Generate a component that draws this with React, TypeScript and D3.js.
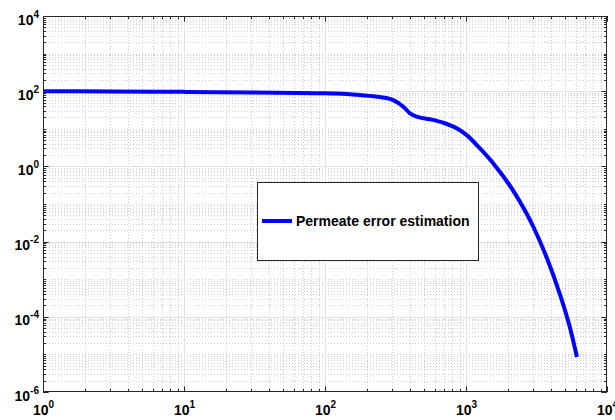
import React from "react";
import * as d3 from "d3";

const xValues = [1, 3, 10, 30, 100, 177, 245, 305, 359, 401, 447, 556, 691, 859, 1012, 1257, 1563, 2154, 2985, 3752, 4641, 5465, 6125];
const yValues = [100, 98, 96, 92, 88, 79, 70, 58, 38.7, 25.8, 21, 17.9, 14.5, 10.3, 6.8, 3.0, 1.2, 0.23, 0.026, 0.0036, 3.9e-4, 5.1e-5, 8.5e-6];
const xTickExps = [0, 1, 2, 3, 4];
const yTickExps = [-6, -4, -2, 0, 2, 4];
const seriesName = "Permeate error estimation";

const W = 615, H = 420;
const L = 43, R = 607, T = 16, B = 392;
const FONT = "'Liberation Sans', Arial, Helvetica, sans-serif";
const AXIS = "#262626";

export default function App() {
  const x = d3.scaleLog().domain([1, 1e4]).range([L, R]);
  const y = d3.scaleLog().domain([1e-6, 1e4]).range([B, T]);

  const xMinor: number[] = [];
  for (let d = 0; d < 4; d++) for (let k = 2; k <= 9; k++) xMinor.push(k * Math.pow(10, d));
  const yMinor: number[] = [];
  for (let d = -6; d < 4; d++) for (let k = 1; k <= 9; k++) {
    if (k === 1 && d % 2 === 0) continue;
    yMinor.push(k * Math.pow(10, d));
  }
  const xMajor = xTickExps.map((e) => Math.pow(10, e));
  const yMajor = yTickExps.map((e) => Math.pow(10, e));

  const px = (v: number) => Math.round(x(v)) + 0.5;
  const py = (v: number) => Math.round(y(v)) + 0.5;

  const line = d3
    .line<number>()
    .x((_, i) => x(xValues[i]))
    .y((d) => y(d))
    .curve(d3.curveMonotoneX);

  const majLen = 5.6, minLen = 3;

  return (
    <svg width={W} height={H} style={{ position: "fixed", left: 0, top: 0, background: "#fff" }} fontFamily={FONT}>
      <rect x={0} y={0} width={W} height={H} fill="#fff" />
      <rect x={L} y={T} width={R - L} height={B - T} fill="#fff" />
      <g stroke="#cfcfcf" strokeWidth={1} strokeDasharray="1,2">
        {xMinor.map((v) => (
          <line key={"xm" + v} x1={px(v)} x2={px(v)} y1={T} y2={B} />
        ))}
        {yMinor.map((v) => (
          <line key={"ym" + v} x1={L} x2={R} y1={py(v)} y2={py(v)} />
        ))}
      </g>
      <g stroke="#e2e2e2" strokeWidth={1}>
        {xMajor.slice(1, -1).map((v) => (
          <line key={"xg" + v} x1={px(v)} x2={px(v)} y1={T} y2={B} />
        ))}
        {yMajor.slice(1, -1).map((v) => (
          <line key={"yg" + v} x1={L} x2={R} y1={py(v)} y2={py(v)} />
        ))}
      </g>
      <path d={line(yValues) || ""} fill="none" stroke="#0000ff" strokeWidth={4} strokeLinejoin="round" />
      <g stroke={AXIS} strokeWidth={1}>
        {xMinor.map((v) => (
          <g key={"xt" + v}>
            <line x1={px(v)} x2={px(v)} y1={B} y2={B - minLen} />
            <line x1={px(v)} x2={px(v)} y1={T} y2={T + minLen} />
          </g>
        ))}
        {xMajor.map((v) => (
          <g key={"xT" + v}>
            <line x1={px(v)} x2={px(v)} y1={B} y2={B - majLen} />
            <line x1={px(v)} x2={px(v)} y1={T} y2={T + majLen} />
          </g>
        ))}
        {yMinor.map((v) => (
          <g key={"yt" + v}>
            <line x1={L} x2={L + minLen} y1={py(v)} y2={py(v)} />
            <line x1={R} x2={R - minLen} y1={py(v)} y2={py(v)} />
          </g>
        ))}
        {yMajor.map((v) => (
          <g key={"yT" + v}>
            <line x1={L} x2={L + majLen} y1={py(v)} y2={py(v)} />
            <line x1={R} x2={R - majLen} y1={py(v)} y2={py(v)} />
          </g>
        ))}
      </g>
      <rect x={L + 0.5} y={T + 0.5} width={R - L - 1} height={B - T - 1} fill="none" stroke={AXIS} strokeWidth={1} />
      <g fontWeight="bold" fill="#000">
        {xTickExps.map((e) => (
          <text key={"xl" + e} x={x(Math.pow(10, e)) + 0.5} y={B + 23} textAnchor="middle" fontSize={14}>
            <tspan>10</tspan>
            <tspan fontSize={10} dy={-7}>{String(e)}</tspan>
          </text>
        ))}
        {yTickExps.map((e) => (
          <text key={"yl" + e} x={39} y={y(Math.pow(10, e)) + 8.5} textAnchor="end" fontSize={14}>
            <tspan>10</tspan>
            <tspan fontSize={10} dy={-7}>{String(e)}</tspan>
          </text>
        ))}
      </g>
      <rect x={257.5} y={182.5} width={221} height={78} fill="#fff" stroke={AXIS} strokeWidth={1} />
      <line x1={262} x2={292} y1={221} y2={221} stroke="#0000ff" strokeWidth={4} />
      <text x={296} y={226} fontSize={14} fontWeight="bold" fill="#000">{seriesName}</text>
    </svg>
  );
}
